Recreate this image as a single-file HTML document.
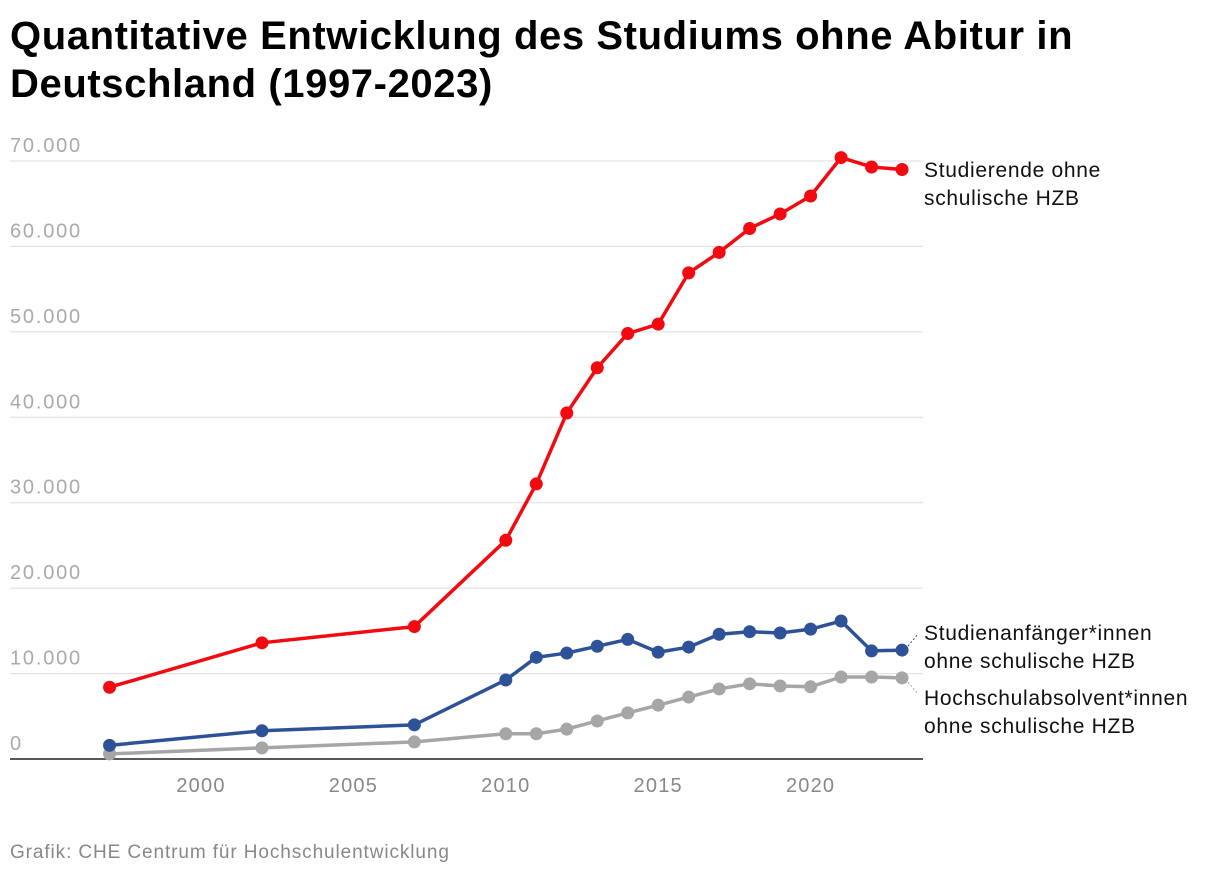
<!DOCTYPE html>
<html><head><meta charset="utf-8"><style>
body{margin:0;background:#fff;width:1220px;height:876px;overflow:hidden;font-family:"Liberation Sans",sans-serif}
#title{position:absolute;left:10px;top:12px;font-size:40px;font-weight:bold;line-height:48px;color:#000;letter-spacing:0.6px}
#foot{position:absolute;left:10px;top:842px;font-size:19px;color:#888;letter-spacing:0.9px}
svg{position:absolute;left:0;top:0}
</style></head><body>
<div id="title">Quantitative Entwicklung des Studiums ohne Abitur in<br>Deutschland (1997-2023)</div>
<svg id="c" width="1220" height="876"></svg>
<div id="foot">Grafik: CHE Centrum für Hochschulentwicklung</div>
<script>
const years=[1997,2002,2007,2010,2011,2012,2013,2014,2015,2016,2017,2018,2019,2020,2021,2022,2023];
const studierende=[8400,13600,15500,25600,32200,40500,45800,49800,50900,56900,59300,62100,63800,65900,70400,69300,69000];
const anfaenger=[1600,3300,4000,9250,11900,12400,13200,14000,12500,13100,14600,14900,14750,15200,16150,12650,12750];
const absolventen=[600,1300,2000,2950,2950,3500,4450,5400,6300,7250,8200,8800,8550,8450,9600,9600,9500];
const yTicks=[0,10000,20000,30000,40000,50000,60000,70000];
const yTickLabels=["0","10.000","20.000","30.000","40.000","50.000","60.000","70.000"];
const xTicks=[2000,2005,2010,2015,2020];
const NS="http://www.w3.org/2000/svg",svg=document.getElementById('c');
const x=v=>201+(v-2000)*30.48;
const y=v=>759-v*0.008543;
function mk(t,a,p){const e=document.createElementNS(NS,t);for(const k in a)e.setAttribute(k,a[k]);(p||svg).appendChild(e);return e;}
yTicks.forEach((t,i)=>{
 if(t>0){const g=mk('line',{x1:10,x2:923,y1:y(t),y2:y(t),stroke:'#ddd','stroke-width':1});
 
 }
 const l=mk('text',{x:10,y:y(t)-9,'font-size':20,fill:'#aaa','letter-spacing':1.8});l.textContent=yTickLabels[i];
 
 
});
const base=mk('line',{x1:10,x2:923,y1:759,y2:759,stroke:'#222','stroke-width':1.5});


xTicks.forEach(t=>{const l=mk('text',{x:x(t),y:792,'font-size':20,fill:'#888','text-anchor':'middle','letter-spacing':1.2});l.textContent=t;
 
 });
function series(vals,col,name){
 const p=mk('polyline',{points:vals.map((v,i)=>x(years[i])+','+y(v)).join(' '),fill:'none',stroke:col,'stroke-width':3.5,'stroke-linejoin':'round'});
 
 
 vals.forEach((v,i)=>{const c=mk('circle',{cx:x(years[i]),cy:y(v),r:6.5,fill:col});
 
 });
}
series(absolventen,'#a6a6a6','absolventen');
series(anfaenger,'#2e5297','anfaenger');
series(studierende,'#f20a10','studierende');
function label(lines,yy,name){const t=mk('text',{x:924,y:yy,'font-size':21,fill:'#111','letter-spacing':0.7});
 
 
 lines.forEach((s,i)=>{const ts=mk('tspan',{x:924,dy:i?28:0},t);ts.textContent=s;});}
label(['Studierende ohne','schulische HZB'],177,'label-studierende');
label(['Studienanfänger*innen','ohne schulische HZB'],640,'label-anfaenger');
label(['Hochschulabsolvent*innen','ohne schulische HZB'],705,'label-absolventen');
const d1=mk('line',{x1:908,y1:646,x2:918,y2:634,stroke:'#2e5297','stroke-dasharray':'2,2'});


const d2=mk('line',{x1:908,y1:682,x2:918,y2:694,stroke:'#a6a6a6','stroke-dasharray':'2,2'});


</script>
</body></html>
